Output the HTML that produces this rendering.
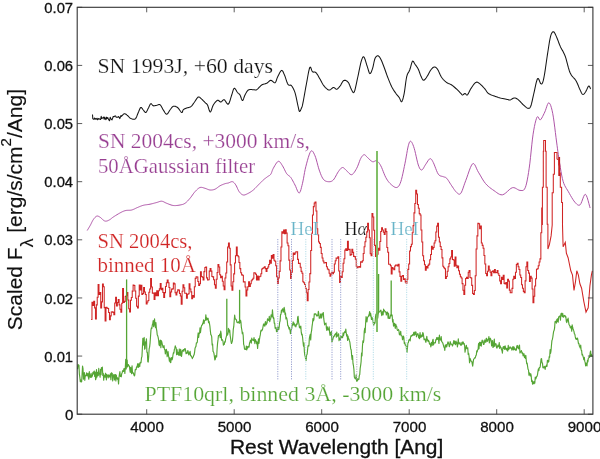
<!DOCTYPE html>
<html><head><meta charset="utf-8"><style>html,body{margin:0;padding:0;background:#fff;}svg{display:block;will-change:transform}</style></head>
<body><svg width="600" height="459" viewBox="0 0 600 459">
<rect width="600" height="459" fill="#fff"/>
<path d="M92.50,114.50 L92.80,118.60 L93.40,119.21 L94.00,119.31 L94.60,117.99 L95.20,119.24 L95.80,118.61 L96.40,119.18 L97.00,118.29 L97.60,119.73 L98.20,119.25 L98.80,118.43 L99.40,118.96 L100.00,119.30 L100.60,119.56 L101.20,116.36 L101.80,118.50 L102.40,118.15 L103.00,117.74 L103.60,117.06 L104.20,119.25 L104.80,117.12 L105.40,118.88 L106.00,119.65 L106.60,117.15 L107.20,118.41 L107.80,117.58 L108.40,119.03 L109.00,120.22 L109.60,120.73 L110.20,117.33 L110.80,118.39 L111.40,119.42 L112.00,119.93 L112.60,118.33 L113.20,116.54 L113.80,116.81 L114.40,116.26 L115.00,116.13 L115.60,115.90 L116.20,117.19 L116.80,117.31 L117.40,117.14 L118.00,117.24 L118.60,116.45 L119.20,117.22 L119.80,118.64 L120.40,117.09 L121.00,115.54 L121.37,116.38 L122.10,115.57 L122.83,114.79 L123.54,114.15 L124.20,113.80 L124.81,113.76 L125.40,113.94 L125.96,114.26 L126.49,114.67 L127.01,115.11 L127.50,115.50 L127.95,115.89 L128.36,116.32 L128.75,116.78 L129.14,117.23 L129.55,117.65 L130.00,118.00 L130.51,118.30 L131.07,118.57 L131.65,118.81 L132.23,119.00 L132.79,119.14 L133.30,119.20 L133.76,119.23 L134.19,119.24 L134.60,119.19 L135.00,119.04 L135.39,118.76 L135.80,118.30 L136.22,117.61 L136.63,116.70 L137.05,115.66 L137.47,114.56 L137.88,113.48 L138.30,112.50 L138.72,111.53 L139.13,110.50 L139.55,109.48 L139.97,108.58 L140.38,107.89 L140.80,107.50 L141.22,107.48 L141.63,107.78 L142.05,108.28 L142.47,108.89 L142.88,109.50 L143.30,110.00 L143.72,110.49 L144.13,111.08 L144.55,111.67 L144.97,112.16 L145.38,112.47 L145.80,112.50 L146.22,112.19 L146.63,111.61 L147.05,110.84 L147.47,109.98 L147.88,109.10 L148.30,108.30 L148.72,107.48 L149.13,106.55 L149.55,105.61 L149.97,104.75 L150.38,104.08 L150.80,103.70 L151.21,103.69 L151.60,104.00 L151.99,104.49 L152.40,105.04 L152.83,105.52 L153.30,105.80 L153.82,105.87 L154.37,105.83 L154.95,105.72 L155.54,105.57 L156.13,105.42 L156.70,105.30 L157.26,105.14 L157.81,104.89 L158.36,104.64 L158.90,104.47 L159.45,104.46 L160.00,104.70 L160.55,105.25 L161.10,106.07 L161.64,107.05 L162.19,108.10 L162.74,109.11 L163.30,110.00 L163.86,110.86 L164.43,111.79 L165.00,112.69 L165.57,113.46 L166.14,114.00 L166.70,114.20 L167.26,113.98 L167.81,113.40 L168.36,112.59 L168.90,111.67 L169.45,110.77 L170.00,110.00 L170.54,109.30 L171.07,108.55 L171.59,107.81 L172.13,107.15 L172.70,106.63 L173.30,106.30 L173.95,106.17 L174.63,106.20 L175.34,106.36 L176.07,106.64 L176.79,107.02 L177.50,107.50 L178.23,108.20 L179.00,109.17 L179.76,110.25 L180.49,111.27 L181.15,112.07 L181.70,112.50 L182.10,112.47 L182.36,112.10 L182.55,111.52 L182.73,110.84 L182.96,110.19 L183.30,109.70 L183.75,109.35 L184.27,109.04 L184.84,108.76 L185.45,108.50 L186.07,108.25 L186.70,108.00 L187.35,107.79 L188.04,107.64 L188.75,107.51 L189.46,107.33 L190.15,107.08 L190.80,106.70 L191.40,106.18 L191.96,105.56 L192.50,104.86 L193.04,104.10 L193.60,103.31 L194.20,102.50 L194.85,101.57 L195.54,100.48 L196.25,99.35 L196.96,98.31 L197.65,97.49 L198.30,97.00 L198.91,96.91 L199.49,97.12 L200.05,97.55 L200.60,98.10 L201.15,98.68 L201.70,99.20 L202.27,99.70 L202.84,100.25 L203.41,100.83 L203.96,101.42 L204.50,101.98 L205.00,102.50 L205.46,102.91 L205.88,103.23 L206.28,103.52 L206.67,103.86 L207.08,104.33 L207.50,105.00 L207.95,106.07 L208.40,107.52 L208.87,109.09 L209.34,110.54 L209.82,111.59 L210.30,112.00 L210.77,111.62 L211.24,110.62 L211.71,109.23 L212.20,107.68 L212.73,106.20 L213.30,105.00 L213.94,104.01 L214.64,103.03 L215.38,102.11 L216.12,101.31 L216.84,100.69 L217.50,100.30 L218.10,100.26 L218.66,100.54 L219.20,101.00 L219.73,101.49 L220.25,101.87 L220.80,102.00 L221.35,101.77 L221.90,101.28 L222.45,100.67 L223.01,100.11 L223.59,99.74 L224.20,99.70 L224.85,100.22 L225.54,101.20 L226.25,102.38 L226.96,103.46 L227.65,104.16 L228.30,104.20 L228.92,103.43 L229.52,102.06 L230.10,100.30 L230.66,98.39 L231.19,96.55 L231.70,95.00 L232.16,93.61 L232.57,92.18 L232.96,90.81 L233.34,89.63 L233.75,88.76 L234.20,88.30 L234.71,88.39 L235.27,88.96 L235.85,89.82 L236.43,90.82 L236.99,91.77 L237.50,92.50 L237.96,92.98 L238.39,93.35 L238.80,93.67 L239.20,94.01 L239.59,94.43 L240.00,95.00 L240.42,95.87 L240.83,97.02 L241.25,98.25 L241.67,99.37 L242.08,100.19 L242.50,100.50 L242.91,100.21 L243.30,99.46 L243.70,98.41 L244.11,97.20 L244.54,96.02 L245.00,95.00 L245.48,94.08 L245.98,93.12 L246.49,92.17 L247.04,91.30 L247.64,90.56 L248.30,90.00 L249.05,89.67 L249.90,89.54 L250.79,89.54 L251.69,89.60 L252.54,89.68 L253.30,89.70 L253.94,89.74 L254.49,89.85 L255.00,89.97 L255.51,90.04 L256.06,89.97 L256.70,89.70 L257.44,89.15 L258.25,88.37 L259.10,87.46 L259.97,86.52 L260.85,85.66 L261.70,85.00 L262.54,84.56 L263.40,84.26 L264.26,84.04 L265.10,83.85 L265.92,83.62 L266.70,83.30 L267.43,82.81 L268.13,82.19 L268.80,81.54 L269.46,80.94 L270.12,80.50 L270.80,80.30 L271.51,80.49 L272.25,81.03 L272.99,81.72 L273.71,82.38 L274.39,82.80 L275.00,82.80 L275.51,82.32 L275.93,81.51 L276.31,80.47 L276.69,79.30 L277.10,78.11 L277.60,77.00 L278.20,75.81 L278.87,74.43 L279.58,73.03 L280.29,71.78 L280.98,70.84 L281.60,70.40 L282.15,70.50 L282.66,71.03 L283.14,71.87 L283.61,72.93 L284.09,74.11 L284.60,75.30 L285.14,76.66 L285.70,78.31 L286.27,80.08 L286.84,81.79 L287.42,83.29 L288.00,84.40 L288.58,85.00 L289.16,85.20 L289.74,85.18 L290.33,85.13 L290.92,85.24 L291.50,85.70 L292.09,86.46 L292.69,87.38 L293.28,88.45 L293.87,89.69 L294.45,91.10 L295.00,92.70 L295.55,94.64 L296.09,96.96 L296.62,99.45 L297.13,101.92 L297.59,104.17 L298.00,106.00 L298.33,107.46 L298.59,108.71 L298.81,109.74 L299.02,110.54 L299.24,111.10 L299.50,111.40 L299.81,111.36 L300.15,110.97 L300.51,110.34 L300.86,109.56 L301.20,108.75 L301.50,108.00 L301.74,107.45 L301.93,107.04 L302.11,106.59 L302.30,105.92 L302.55,104.85 L302.90,103.20 L303.36,100.80 L303.91,97.77 L304.52,94.33 L305.16,90.73 L305.80,87.21 L306.40,84.00 L306.98,80.85 L307.57,77.53 L308.15,74.28 L308.72,71.36 L309.27,69.02 L309.80,67.50 L310.28,67.05 L310.72,67.52 L311.14,68.56 L311.57,69.85 L312.01,71.04 L312.50,71.80 L313.03,72.08 L313.58,72.13 L314.15,72.09 L314.74,72.08 L315.36,72.24 L316.00,72.70 L316.68,73.51 L317.40,74.59 L318.15,75.83 L318.90,77.14 L319.62,78.43 L320.30,79.60 L320.91,80.68 L321.46,81.76 L321.99,82.81 L322.54,83.82 L323.13,84.79 L323.80,85.70 L324.58,86.61 L325.44,87.55 L326.34,88.44 L327.26,89.21 L328.16,89.79 L329.00,90.10 L329.79,90.02 L330.56,89.59 L331.31,88.97 L332.04,88.31 L332.73,87.77 L333.40,87.50 L334.02,87.59 L334.60,87.94 L335.16,88.41 L335.70,88.86 L336.24,89.17 L336.80,89.20 L337.38,88.94 L337.96,88.48 L338.54,87.88 L339.13,87.19 L339.72,86.44 L340.30,85.70 L340.87,84.85 L341.43,83.83 L341.99,82.77 L342.57,81.78 L343.16,80.98 L343.80,80.50 L344.49,80.33 L345.23,80.36 L346.00,80.59 L346.77,81.00 L347.51,81.57 L348.20,82.30 L348.85,83.32 L349.47,84.68 L350.06,86.21 L350.63,87.73 L351.18,89.08 L351.70,90.10 L352.17,90.93 L352.60,91.73 L353.00,92.36 L353.40,92.68 L353.82,92.54 L354.30,91.80 L354.83,90.30 L355.40,88.12 L356.00,85.48 L356.61,82.60 L357.21,79.70 L357.80,77.00 L358.38,74.32 L358.97,71.44 L359.55,68.55 L360.12,65.80 L360.68,63.36 L361.20,61.40 L361.68,59.86 L362.13,58.59 L362.55,57.62 L362.97,57.01 L363.42,56.79 L363.90,57.00 L364.44,57.82 L365.01,59.26 L365.61,61.09 L366.20,63.07 L366.77,64.99 L367.30,66.60 L367.78,68.06 L368.22,69.58 L368.64,71.03 L369.06,72.27 L369.47,73.18 L369.90,73.60 L370.35,73.48 L370.80,72.91 L371.26,72.00 L371.72,70.86 L372.17,69.59 L372.60,68.30 L373.01,66.84 L373.40,65.10 L373.78,63.24 L374.17,61.41 L374.57,59.77 L375.00,58.50 L375.47,57.57 L375.96,56.85 L376.48,56.32 L376.99,55.99 L377.50,55.81 L378.00,55.80 L378.47,55.96 L378.93,56.30 L379.38,56.81 L379.83,57.48 L380.30,58.28 L380.80,59.20 L381.33,60.29 L381.89,61.57 L382.47,62.99 L383.05,64.49 L383.63,66.01 L384.20,67.50 L384.75,68.97 L385.27,70.47 L385.80,71.99 L386.34,73.54 L386.90,75.11 L387.50,76.70 L388.15,78.36 L388.84,80.10 L389.55,81.86 L390.27,83.59 L391.00,85.22 L391.70,86.70 L392.40,88.02 L393.10,89.24 L393.80,90.36 L394.49,91.40 L395.16,92.38 L395.80,93.30 L396.42,94.14 L397.02,94.88 L397.60,95.55 L398.16,96.19 L398.69,96.83 L399.20,97.50 L399.67,98.35 L400.10,99.37 L400.51,100.39 L400.90,101.23 L401.29,101.73 L401.70,101.70 L402.12,101.12 L402.53,100.14 L402.95,98.80 L403.37,97.17 L403.78,95.32 L404.20,93.30 L404.61,90.89 L405.01,88.01 L405.42,84.89 L405.83,81.80 L406.25,78.99 L406.70,76.70 L407.17,75.03 L407.67,73.81 L408.18,72.86 L408.70,72.01 L409.21,71.12 L409.70,70.00 L410.18,68.53 L410.66,66.82 L411.13,65.05 L411.60,63.41 L412.05,62.10 L412.50,61.30 L412.92,61.09 L413.33,61.33 L413.72,61.89 L414.12,62.65 L414.54,63.46 L415.00,64.20 L415.51,64.89 L416.07,65.65 L416.65,66.47 L417.23,67.34 L417.79,68.25 L418.30,69.20 L418.76,70.23 L419.18,71.36 L419.57,72.53 L419.97,73.70 L420.37,74.80 L420.80,75.80 L421.25,76.78 L421.70,77.79 L422.17,78.74 L422.65,79.54 L423.16,80.10 L423.70,80.30 L424.29,80.09 L424.92,79.51 L425.57,78.69 L426.24,77.73 L426.89,76.73 L427.50,75.80 L428.08,74.88 L428.63,73.86 L429.17,72.81 L429.71,71.77 L430.25,70.82 L430.80,70.00 L431.36,69.28 L431.93,68.60 L432.50,68.00 L433.07,67.51 L433.64,67.17 L434.20,67.00 L434.75,67.00 L435.27,67.12 L435.80,67.39 L436.34,67.82 L436.90,68.42 L437.50,69.20 L438.14,70.27 L438.80,71.64 L439.49,73.18 L440.21,74.75 L440.94,76.24 L441.70,77.50 L442.49,78.55 L443.31,79.50 L444.15,80.36 L445.00,81.14 L445.86,81.85 L446.70,82.50 L447.53,83.04 L448.37,83.46 L449.20,83.80 L450.03,84.13 L450.87,84.51 L451.70,85.00 L452.54,85.60 L453.40,86.28 L454.26,87.00 L455.10,87.74 L455.92,88.49 L456.70,89.20 L457.46,89.92 L458.22,90.66 L458.96,91.41 L459.64,92.11 L460.27,92.76 L460.80,93.30 L461.21,93.76 L461.51,94.16 L461.75,94.50 L461.96,94.76 L462.20,94.93 L462.50,95.00 L462.87,94.90 L463.28,94.63 L463.71,94.27 L464.14,93.90 L464.58,93.62 L465.00,93.50 L465.39,93.65 L465.77,94.04 L466.14,94.50 L466.52,94.90 L466.94,95.08 L467.40,94.90 L467.90,94.29 L468.43,93.37 L468.99,92.23 L469.59,90.98 L470.22,89.73 L470.90,88.60 L471.65,87.47 L472.47,86.25 L473.32,85.02 L474.19,83.91 L475.02,83.00 L475.80,82.40 L476.50,82.14 L477.14,82.14 L477.75,82.36 L478.36,82.72 L479.00,83.19 L479.70,83.70 L480.47,84.31 L481.30,85.07 L482.15,85.93 L483.00,86.83 L483.83,87.74 L484.60,88.60 L485.28,89.44 L485.90,90.32 L486.49,91.19 L487.09,92.04 L487.75,92.82 L488.50,93.50 L489.37,94.07 L490.32,94.56 L491.32,94.99 L492.36,95.37 L493.39,95.73 L494.40,96.10 L495.37,96.46 L496.33,96.80 L497.29,97.12 L498.26,97.43 L499.26,97.72 L500.30,98.00 L501.44,98.27 L502.67,98.53 L503.94,98.78 L505.16,99.01 L506.27,99.22 L507.20,99.40 L507.90,99.58 L508.43,99.76 L508.84,99.91 L509.21,100.02 L509.61,100.06 L510.10,100.00 L510.69,99.78 L511.33,99.40 L511.99,98.95 L512.66,98.51 L513.34,98.17 L514.00,98.00 L514.64,98.00 L515.26,98.09 L515.89,98.27 L516.53,98.55 L517.19,98.92 L517.90,99.40 L518.66,100.03 L519.46,100.81 L520.29,101.69 L521.13,102.61 L521.97,103.50 L522.80,104.30 L523.64,105.08 L524.50,105.89 L525.37,106.68 L526.21,107.37 L526.99,107.90 L527.70,108.20 L528.31,108.33 L528.84,108.36 L529.33,108.23 L529.78,107.88 L530.23,107.26 L530.70,106.30 L531.18,104.95 L531.64,103.24 L532.09,101.26 L532.56,99.09 L533.06,96.81 L533.60,94.50 L534.20,91.87 L534.85,88.80 L535.53,85.61 L536.21,82.66 L536.88,80.28 L537.50,78.80 L538.09,78.48 L538.67,79.10 L539.23,80.28 L539.76,81.67 L540.25,82.90 L540.70,83.60 L541.09,83.86 L541.43,83.99 L541.73,83.95 L542.01,83.73 L542.29,83.29 L542.60,82.60 L542.92,81.71 L543.23,80.64 L543.54,79.36 L543.86,77.82 L544.21,75.98 L544.60,73.80 L545.03,71.14 L545.50,67.99 L545.99,64.55 L546.49,60.99 L547.00,57.48 L547.50,54.20 L548.00,51.00 L548.50,47.71 L549.00,44.48 L549.50,41.45 L550.00,38.78 L550.50,36.60 L550.99,34.93 L551.47,33.66 L551.95,32.74 L552.43,32.14 L552.91,31.80 L553.40,31.70 L553.88,31.89 L554.36,32.43 L554.84,33.23 L555.33,34.24 L555.85,35.39 L556.40,36.60 L556.99,37.95 L557.60,39.50 L558.23,41.19 L558.89,42.95 L559.58,44.71 L560.30,46.40 L561.06,47.95 L561.86,49.41 L562.69,50.87 L563.53,52.43 L564.37,54.17 L565.20,56.20 L566.01,58.67 L566.80,61.55 L567.59,64.62 L568.39,67.66 L569.23,70.46 L570.10,72.80 L571.05,74.61 L572.07,76.04 L573.11,77.24 L574.14,78.32 L575.12,79.43 L576.00,80.70 L576.78,82.16 L577.49,83.71 L578.14,85.29 L578.75,86.82 L579.33,88.25 L579.90,89.50 L580.44,90.63 L580.94,91.71 L581.41,92.68 L581.86,93.49 L582.32,94.08 L582.80,94.40 L583.30,94.40 L583.80,94.11 L584.30,93.60 L584.80,92.95 L585.30,92.22 L585.80,91.50 L586.30,90.63 L586.81,89.54 L587.31,88.38 L587.80,87.29 L588.27,86.45 L588.70,86.00 L589.11,86.05 L589.51,86.51 L589.88,87.21 L590.21,87.98 L590.49,88.66 L590.70,89.10" fill="none" stroke="#151515" stroke-width="1.05" stroke-linejoin="round"/>
<path d="M87.20,230.50 L87.54,229.94 L88.01,229.17 L88.56,228.26 L89.16,227.26 L89.75,226.26 L90.30,225.30 L90.80,224.35 L91.29,223.36 L91.77,222.34 L92.27,221.36 L92.77,220.43 L93.30,219.60 L93.85,218.83 L94.43,218.09 L95.02,217.41 L95.61,216.83 L96.21,216.38 L96.80,216.10 L97.38,216.02 L97.97,216.11 L98.55,216.34 L99.13,216.66 L99.72,217.02 L100.30,217.40 L100.89,217.84 L101.50,218.39 L102.11,218.99 L102.70,219.59 L103.27,220.11 L103.80,220.50 L104.28,220.77 L104.70,220.96 L105.10,221.09 L105.50,221.15 L105.92,221.15 L106.40,221.10 L106.93,220.98 L107.50,220.80 L108.10,220.55 L108.71,220.26 L109.31,219.94 L109.90,219.60 L110.43,219.25 L110.89,218.89 L111.35,218.49 L111.87,218.05 L112.50,217.56 L113.30,217.00 L114.34,216.33 L115.59,215.55 L116.95,214.71 L118.33,213.89 L119.65,213.13 L120.80,212.50 L121.77,212.00 L122.62,211.59 L123.40,211.25 L124.16,210.96 L124.94,210.72 L125.80,210.50 L126.73,210.35 L127.70,210.30 L128.70,210.28 L129.71,210.26 L130.71,210.18 L131.70,210.00 L132.67,209.70 L133.64,209.30 L134.61,208.86 L135.57,208.39 L136.53,207.92 L137.50,207.50 L138.46,207.10 L139.40,206.70 L140.34,206.31 L141.30,205.94 L142.28,205.60 L143.30,205.30 L144.36,205.06 L145.47,204.87 L146.59,204.72 L147.73,204.57 L148.87,204.41 L150.00,204.20 L151.14,203.95 L152.30,203.66 L153.46,203.36 L154.59,203.06 L155.68,202.77 L156.70,202.50 L157.63,202.22 L158.49,201.91 L159.31,201.61 L160.10,201.37 L160.89,201.22 L161.70,201.20 L162.51,201.35 L163.31,201.64 L164.10,202.03 L164.91,202.47 L165.77,202.90 L166.70,203.30 L167.71,203.69 L168.78,204.13 L169.89,204.56 L171.03,204.96 L172.18,205.29 L173.30,205.50 L174.43,205.59 L175.59,205.58 L176.75,205.49 L177.89,205.36 L178.98,205.18 L180.00,205.00 L180.93,204.82 L181.79,204.64 L182.61,204.43 L183.40,204.16 L184.19,203.79 L185.00,203.30 L185.83,202.68 L186.67,201.94 L187.50,201.11 L188.33,200.21 L189.17,199.26 L190.00,198.30 L190.83,197.26 L191.67,196.13 L192.50,194.95 L193.33,193.78 L194.17,192.68 L195.00,191.70 L195.83,190.80 L196.67,189.94 L197.50,189.14 L198.33,188.44 L199.17,187.88 L200.00,187.50 L200.83,187.33 L201.67,187.36 L202.50,187.53 L203.33,187.78 L204.17,188.06 L205.00,188.30 L205.83,188.56 L206.67,188.89 L207.50,189.25 L208.33,189.59 L209.17,189.85 L210.00,190.00 L210.83,190.04 L211.67,190.01 L212.50,189.92 L213.33,189.75 L214.17,189.51 L215.00,189.20 L215.83,188.77 L216.67,188.21 L217.50,187.58 L218.33,186.93 L219.17,186.32 L220.00,185.80 L220.85,185.36 L221.73,184.95 L222.61,184.58 L223.46,184.25 L224.27,183.95 L225.00,183.70 L225.64,183.51 L226.19,183.39 L226.70,183.30 L227.20,183.23 L227.72,183.14 L228.30,183.00 L228.96,182.76 L229.67,182.44 L230.40,182.10 L231.13,181.81 L231.84,181.66 L232.50,181.70 L233.10,181.94 L233.66,182.33 L234.20,182.85 L234.73,183.48 L235.25,184.20 L235.80,185.00 L236.35,185.96 L236.90,187.11 L237.45,188.35 L238.01,189.59 L238.59,190.74 L239.20,191.70 L239.83,192.50 L240.48,193.24 L241.15,193.88 L241.84,194.40 L242.56,194.78 L243.30,195.00 L244.08,195.02 L244.90,194.86 L245.74,194.56 L246.60,194.17 L247.46,193.73 L248.30,193.30 L249.13,192.86 L249.97,192.38 L250.80,191.86 L251.63,191.29 L252.47,190.67 L253.30,190.00 L254.13,189.27 L254.97,188.46 L255.80,187.61 L256.63,186.73 L257.47,185.85 L258.30,185.00 L259.14,184.15 L260.00,183.27 L260.85,182.39 L261.69,181.54 L262.51,180.73 L263.30,180.00 L264.06,179.34 L264.79,178.74 L265.51,178.19 L266.20,177.68 L266.86,177.18 L267.50,176.70 L268.11,176.28 L268.70,175.93 L269.26,175.61 L269.79,175.26 L270.31,174.80 L270.80,174.20 L271.23,173.43 L271.60,172.53 L271.94,171.53 L272.31,170.47 L272.75,169.39 L273.30,168.30 L274.00,167.06 L274.81,165.62 L275.69,164.15 L276.60,162.82 L277.48,161.81 L278.30,161.30 L279.05,161.35 L279.76,161.82 L280.45,162.62 L281.13,163.62 L281.81,164.72 L282.50,165.80 L283.20,166.97 L283.90,168.33 L284.61,169.79 L285.31,171.24 L286.01,172.58 L286.70,173.70 L287.39,174.53 L288.07,175.13 L288.75,175.62 L289.43,176.11 L290.11,176.70 L290.80,177.50 L291.49,178.53 L292.19,179.71 L292.89,180.99 L293.60,182.33 L294.30,183.68 L295.00,185.00 L295.71,186.51 L296.43,188.29 L297.16,190.08 L297.87,191.63 L298.55,192.69 L299.20,193.00 L299.80,192.49 L300.37,191.33 L300.91,189.69 L301.43,187.70 L301.96,185.52 L302.50,183.30 L303.03,180.92 L303.54,178.23 L304.04,175.36 L304.57,172.40 L305.15,169.48 L305.80,166.70 L306.54,163.83 L307.37,160.74 L308.24,157.68 L309.13,154.91 L309.99,152.70 L310.80,151.30 L311.55,150.79 L312.26,150.97 L312.95,151.70 L313.63,152.84 L314.31,154.26 L315.00,155.80 L315.70,157.66 L316.40,160.00 L317.11,162.61 L317.81,165.28 L318.51,167.81 L319.20,170.00 L319.88,171.90 L320.54,173.69 L321.20,175.33 L321.87,176.81 L322.57,178.11 L323.30,179.20 L324.08,180.05 L324.90,180.69 L325.74,181.13 L326.60,181.43 L327.46,181.60 L328.30,181.70 L329.13,181.74 L329.97,181.69 L330.80,181.52 L331.63,181.21 L332.47,180.71 L333.30,180.00 L334.14,178.95 L335.00,177.57 L335.85,176.01 L336.69,174.41 L337.51,172.92 L338.30,171.70 L339.05,170.68 L339.76,169.72 L340.45,168.88 L341.13,168.19 L341.81,167.72 L342.50,167.50 L343.19,167.61 L343.87,168.02 L344.55,168.64 L345.24,169.38 L345.95,170.13 L346.70,170.80 L347.49,171.53 L348.31,172.44 L349.15,173.36 L350.00,174.14 L350.86,174.64 L351.70,174.70 L352.54,174.27 L353.40,173.46 L354.26,172.37 L355.10,171.08 L355.92,169.69 L356.70,168.30 L357.44,166.77 L358.16,165.00 L358.85,163.13 L359.52,161.29 L360.17,159.64 L360.80,158.30 L361.41,157.26 L361.99,156.39 L362.55,155.70 L363.10,155.19 L363.65,154.86 L364.20,154.70 L364.74,154.78 L365.24,155.11 L365.75,155.61 L366.28,156.23 L366.85,156.88 L367.50,157.50 L368.24,158.18 L369.07,158.99 L369.94,159.83 L370.83,160.63 L371.69,161.28 L372.50,161.70 L373.25,161.78 L373.96,161.56 L374.66,161.20 L375.34,160.85 L376.02,160.67 L376.70,160.80 L377.38,161.21 L378.04,161.78 L378.70,162.51 L379.37,163.42 L380.07,164.51 L380.80,165.80 L381.58,167.42 L382.40,169.39 L383.24,171.54 L384.10,173.72 L384.96,175.76 L385.80,177.50 L386.62,178.95 L387.43,180.23 L388.24,181.37 L389.07,182.40 L389.91,183.34 L390.80,184.20 L391.75,185.05 L392.77,185.89 L393.81,186.63 L394.83,187.20 L395.81,187.52 L396.70,187.50 L397.49,187.21 L398.20,186.71 L398.86,185.96 L399.49,184.90 L400.13,183.50 L400.80,181.70 L401.50,179.35 L402.23,176.47 L402.95,173.23 L403.66,169.83 L404.35,166.46 L405.00,163.30 L405.61,160.18 L406.20,156.92 L406.76,153.68 L407.29,150.64 L407.81,147.95 L408.30,145.80 L408.75,144.16 L409.16,142.91 L409.54,142.02 L409.93,141.47 L410.34,141.23 L410.80,141.30 L411.31,141.69 L411.84,142.42 L412.40,143.48 L412.98,144.82 L413.58,146.44 L414.20,148.30 L414.85,150.66 L415.54,153.58 L416.25,156.78 L416.96,159.94 L417.65,162.78 L418.30,165.00 L418.90,166.64 L419.46,167.93 L420.00,168.91 L420.54,169.57 L421.10,169.93 L421.70,170.00 L422.34,169.65 L423.01,168.86 L423.70,167.76 L424.40,166.51 L425.10,165.27 L425.80,164.20 L426.50,163.16 L427.23,162.00 L427.95,160.85 L428.66,159.83 L429.35,159.07 L430.00,158.70 L430.58,158.70 L431.10,158.99 L431.60,159.52 L432.11,160.30 L432.66,161.30 L433.30,162.50 L434.03,164.10 L434.84,166.16 L435.69,168.43 L436.57,170.69 L437.45,172.69 L438.30,174.20 L439.15,175.16 L440.03,175.75 L440.90,176.08 L441.75,176.27 L442.56,176.44 L443.30,176.70 L443.94,176.95 L444.49,177.08 L445.00,177.19 L445.51,177.36 L446.06,177.70 L446.70,178.30 L447.44,179.22 L448.25,180.39 L449.10,181.73 L449.97,183.14 L450.85,184.53 L451.70,185.80 L452.54,187.03 L453.40,188.31 L454.26,189.57 L455.10,190.73 L455.92,191.73 L456.70,192.50 L457.43,193.13 L458.10,193.70 L458.76,194.11 L459.41,194.24 L460.08,194.01 L460.80,193.30 L461.55,192.03 L462.30,190.26 L463.07,188.11 L463.88,185.72 L464.75,183.21 L465.70,180.70 L466.76,177.83 L467.93,174.41 L469.15,170.88 L470.39,167.64 L471.58,165.11 L472.70,163.70 L473.71,163.61 L474.64,164.54 L475.54,166.18 L476.44,168.21 L477.38,170.33 L478.40,172.20 L479.49,173.97 L480.61,175.91 L481.77,177.94 L482.98,179.94 L484.22,181.83 L485.50,183.50 L486.84,184.96 L488.23,186.29 L489.66,187.49 L491.11,188.60 L492.57,189.63 L494.00,190.60 L495.40,191.60 L496.78,192.63 L498.16,193.59 L499.56,194.34 L501.00,194.79 L502.50,194.80 L504.10,194.16 L505.78,192.91 L507.51,191.34 L509.22,189.76 L510.87,188.45 L512.40,187.70 L513.83,187.64 L515.19,188.07 L516.49,188.77 L517.73,189.53 L518.90,190.14 L520.00,190.40 L521.02,190.47 L521.96,190.56 L522.83,190.49 L523.64,190.12 L524.43,189.28 L525.20,187.80 L525.94,185.68 L526.63,183.06 L527.28,179.96 L527.92,176.43 L528.55,172.50 L529.20,168.20 L529.86,163.17 L530.51,157.30 L531.16,151.04 L531.80,144.81 L532.45,139.05 L533.10,134.20 L533.76,130.16 L534.42,126.55 L535.08,123.41 L535.74,120.79 L536.38,118.70 L537.00,117.20 L537.58,116.62 L538.13,117.00 L538.67,117.93 L539.21,118.98 L539.78,119.74 L540.40,119.80 L541.08,119.12 L541.81,118.02 L542.56,116.64 L543.33,115.09 L544.08,113.50 L544.80,112.00 L545.49,110.32 L546.17,108.31 L546.83,106.26 L547.49,104.46 L548.14,103.21 L548.80,102.80 L549.46,103.20 L550.11,104.17 L550.76,105.68 L551.40,107.72 L552.05,110.27 L552.70,113.30 L553.37,117.15 L554.05,121.90 L554.73,127.16 L555.40,132.52 L556.03,137.60 L556.60,142.00 L557.09,145.63 L557.51,148.80 L557.90,151.69 L558.29,154.46 L558.71,157.31 L559.20,160.40 L559.76,163.86 L560.35,167.57 L560.98,171.35 L561.65,175.02 L562.35,178.40 L563.10,181.30 L563.89,183.64 L564.72,185.54 L565.59,187.15 L566.49,188.61 L567.43,190.08 L568.40,191.70 L569.43,193.54 L570.53,195.49 L571.66,197.44 L572.79,199.28 L573.88,200.91 L574.90,202.20 L575.84,203.24 L576.73,204.14 L577.58,204.81 L578.41,205.20 L579.24,205.22 L580.10,204.80 L580.98,203.53 L581.88,201.37 L582.78,198.86 L583.67,196.49 L584.55,194.80 L585.40,194.30 L586.27,195.34 L587.19,197.58 L588.08,200.49 L588.90,203.55 L589.60,206.23 L590.10,208.00" fill="none" stroke="#aa4ca2" stroke-width="0.95" stroke-linejoin="round"/>
<path d="M559.2,157 L559.2,176" stroke="#c01818" stroke-width="1.8"/>
<path d="M91.10,319.51 L91.97,319.51 L91.97,302.19 L92.85,302.19 L92.85,305.59 L93.72,305.59 L93.72,301.27 L94.60,301.27 L94.60,307.86 L95.47,307.86 L95.47,318.94 L96.35,318.94 L96.35,304.88 L97.22,304.88 L97.22,297.24 L98.10,297.24 L98.10,284.44 L98.97,284.44 L98.97,294.40 L99.85,294.40 L99.85,292.55 L100.72,292.55 L100.72,307.97 L101.60,307.97 L101.60,301.87 L102.47,301.87 L102.47,283.95 L103.35,283.95 L103.35,286.82 L104.22,286.82 L104.22,307.63 L105.10,307.63 L105.10,321.02 L105.97,321.02 L105.97,307.29 L106.85,307.29 L106.85,308.09 L107.72,308.09 L107.72,308.41 L108.60,308.41 L108.60,312.51 L109.47,312.51 L109.47,319.62 L110.35,319.62 L110.35,315.88 L111.22,315.88 L111.22,312.01 L112.10,312.01 L112.10,311.69 L112.97,311.69 L112.97,312.39 L113.85,312.39 L113.85,314.83 L114.72,314.83 L114.72,303.00 L115.60,303.00 L115.60,297.38 L116.47,297.38 L116.47,305.99 L117.35,305.99 L117.35,302.52 L118.22,302.52 L118.22,299.63 L119.10,299.63 L119.10,304.87 L119.97,304.87 L119.97,309.29 L120.85,309.29 L120.85,312.33 L121.72,312.33 L121.72,303.16 L122.60,303.16 L122.60,288.43 L123.47,288.43 L123.47,302.47 L124.35,302.47 L124.35,301.35 L125.22,301.35 L125.22,296.53 L126.10,296.53 L126.10,295.81 L126.97,295.81 L126.97,292.51 L127.85,292.51 L127.85,299.96 L128.72,299.96 L128.72,308.74 L129.60,308.74 L129.60,311.99 L130.47,311.99 L130.47,300.23 L131.35,300.23 L131.35,297.55 L132.22,297.55 L132.22,291.13 L133.10,291.13 L133.10,284.97 L133.97,284.97 L133.97,285.40 L134.85,285.40 L134.85,291.05 L135.72,291.05 L135.72,298.24 L136.60,298.24 L136.60,306.18 L137.47,306.18 L137.47,307.87 L138.35,307.87 L138.35,296.14 L139.22,296.14 L139.22,285.10 L140.10,285.10 L140.10,290.05 L140.97,290.05 L140.97,285.29 L141.85,285.29 L141.85,294.45 L142.72,294.45 L142.72,293.47 L143.60,293.47 L143.60,287.47 L144.47,287.47 L144.47,291.90 L145.35,291.90 L145.35,294.40 L146.22,294.40 L146.22,304.04 L147.10,304.04 L147.10,301.95 L147.97,301.95 L147.97,300.48 L148.85,300.48 L148.85,292.27 L149.72,292.27 L149.72,289.08 L150.60,289.08 L150.60,278.55 L151.47,278.55 L151.47,286.94 L152.35,286.94 L152.35,293.16 L153.22,293.16 L153.22,293.09 L154.10,293.09 L154.10,299.38 L154.97,299.38 L154.97,292.72 L155.85,292.72 L155.85,295.67 L156.72,295.67 L156.72,290.68 L157.60,290.68 L157.60,295.72 L158.47,295.72 L158.47,290.75 L159.35,290.75 L159.35,288.69 L160.22,288.69 L160.22,283.64 L161.10,283.64 L161.10,289.80 L161.97,289.80 L161.97,288.37 L162.85,288.37 L162.85,292.44 L163.72,292.44 L163.72,297.51 L164.60,297.51 L164.60,292.61 L165.47,292.61 L165.47,286.54 L166.35,286.54 L166.35,282.79 L167.22,282.79 L167.22,279.90 L168.10,279.90 L168.10,282.65 L168.97,282.65 L168.97,287.47 L169.85,287.47 L169.85,296.70 L170.72,296.70 L170.72,292.08 L171.60,292.08 L171.60,289.11 L172.47,289.11 L172.47,288.85 L173.35,288.85 L173.35,282.92 L174.22,282.92 L174.22,283.86 L175.10,283.86 L175.10,292.78 L175.97,292.78 L175.97,294.94 L176.85,294.94 L176.85,292.04 L177.72,292.04 L177.72,289.80 L178.60,289.80 L178.60,290.13 L179.47,290.13 L179.47,293.43 L180.35,293.43 L180.35,296.04 L181.22,296.04 L181.22,304.16 L182.10,304.16 L182.10,291.28 L182.97,291.28 L182.97,284.86 L183.85,284.86 L183.85,287.84 L184.72,287.84 L184.72,293.16 L185.60,293.16 L185.60,293.23 L186.47,293.23 L186.47,298.14 L187.35,298.14 L187.35,294.26 L188.22,294.26 L188.22,293.65 L189.10,293.65 L189.10,283.89 L189.97,283.89 L189.97,289.03 L190.85,289.03 L190.85,291.89 L191.72,291.89 L191.72,298.78 L192.60,298.78 L192.60,295.62 L193.47,295.62 L193.47,297.32 L194.35,297.32 L194.35,286.84 L195.22,286.84 L195.22,278.36 L196.10,278.36 L196.10,276.88 L196.97,276.88 L196.97,277.01 L197.85,277.01 L197.85,281.53 L198.72,281.53 L198.72,285.40 L199.60,285.40 L199.60,283.83 L200.47,283.83 L200.47,271.69 L201.35,271.69 L201.35,276.52 L202.22,276.52 L202.22,277.24 L203.10,277.24 L203.10,280.03 L203.97,280.03 L203.97,271.60 L204.85,271.60 L204.85,267.45 L205.72,267.45 L205.72,267.12 L206.60,267.12 L206.60,277.89 L207.47,277.89 L207.47,280.08 L208.35,280.08 L208.35,279.71 L209.22,279.71 L209.22,271.12 L210.10,271.12 L210.10,268.59 L210.97,268.59 L210.97,271.10 L211.85,271.10 L211.85,276.46 L212.72,276.46 L212.72,276.88 L213.60,276.88 L213.60,279.78 L214.47,279.78 L214.47,284.70 L215.35,284.70 L215.35,288.10 L216.22,288.10 L216.22,279.31 L217.10,279.31 L217.10,272.46 L217.97,272.46 L217.97,264.60 L218.85,264.60 L218.85,267.07 L219.72,267.07 L219.72,274.80 L220.60,274.80 L220.60,277.64 L221.47,277.64 L221.47,276.38 L222.35,276.38 L222.35,281.34 L223.22,281.34 L223.22,285.99 L224.10,285.99 L224.10,289.81 L224.97,289.81 L224.97,278.04 L225.85,278.04 L225.85,273.09 L226.72,273.09 L226.72,261.92 L227.60,261.92 L227.60,246.95 L228.47,246.95 L228.47,242.96 L229.35,242.96 L229.35,248.33 L230.22,248.33 L230.22,264.87 L231.10,264.87 L231.10,286.02 L231.97,286.02 L231.97,290.22 L232.85,290.22 L232.85,281.83 L233.72,281.83 L233.72,273.86 L234.60,273.86 L234.60,263.08 L235.47,263.08 L235.47,255.70 L236.35,255.70 L236.35,247.08 L237.22,247.08 L237.22,255.49 L238.10,255.49 L238.10,256.84 L238.97,256.84 L238.97,262.59 L239.85,262.59 L239.85,268.60 L240.72,268.60 L240.72,272.79 L241.60,272.79 L241.60,274.88 L242.47,274.88 L242.47,275.21 L243.35,275.21 L243.35,281.92 L244.22,281.92 L244.22,281.84 L245.10,281.84 L245.10,287.08 L245.97,287.08 L245.97,296.00 L246.85,296.00 L246.85,290.09 L247.72,290.09 L247.72,286.79 L248.60,286.79 L248.60,281.79 L249.47,281.79 L249.47,286.41 L250.35,286.41 L250.35,283.71 L251.22,283.71 L251.22,280.67 L252.10,280.67 L252.10,279.54 L252.97,279.54 L252.97,278.24 L253.85,278.24 L253.85,272.88 L254.72,272.88 L254.72,273.00 L255.60,273.00 L255.60,274.32 L256.48,274.32 L256.48,279.90 L257.35,279.90 L257.35,276.09 L258.23,276.09 L258.23,279.97 L259.10,279.97 L259.10,276.71 L259.98,276.71 L259.98,276.34 L260.85,276.34 L260.85,273.76 L261.73,273.76 L261.73,269.09 L262.60,269.09 L262.60,268.22 L263.48,268.22 L263.48,267.82 L264.35,267.82 L264.35,266.83 L265.23,266.83 L265.23,268.62 L266.10,268.62 L266.10,271.56 L266.98,271.56 L266.98,268.55 L267.85,268.55 L267.85,266.96 L268.73,266.96 L268.73,264.55 L269.60,264.55 L269.60,260.31 L270.48,260.31 L270.48,263.23 L271.35,263.23 L271.35,255.57 L272.23,255.57 L272.23,258.25 L273.10,258.25 L273.10,254.47 L273.98,254.47 L273.98,260.33 L274.85,260.33 L274.85,261.28 L275.73,261.28 L275.73,265.68 L276.60,265.68 L276.60,276.83 L277.48,276.83 L277.48,283.58 L278.35,283.58 L278.35,277.86 L279.23,277.86 L279.23,271.37 L280.10,271.37 L280.10,260.89 L280.98,260.89 L280.98,246.94 L281.85,246.94 L281.85,231.74 L282.73,231.74 L282.73,233.17 L283.60,233.17 L283.60,229.99 L284.48,229.99 L284.48,233.62 L285.35,233.62 L285.35,229.68 L286.23,229.68 L286.23,233.13 L287.10,233.13 L287.10,242.99 L287.98,242.99 L287.98,245.77 L288.85,245.77 L288.85,260.14 L289.73,260.14 L289.73,269.95 L290.60,269.95 L290.60,278.40 L291.48,278.40 L291.48,272.17 L292.35,272.17 L292.35,260.55 L293.23,260.55 L293.23,252.95 L294.10,252.95 L294.10,254.38 L294.98,254.38 L294.98,252.91 L295.85,252.91 L295.85,251.72 L296.73,251.72 L296.73,251.73 L297.60,251.73 L297.60,259.38 L298.48,259.38 L298.48,263.39 L299.35,263.39 L299.35,263.16 L300.23,263.16 L300.23,267.17 L301.10,267.17 L301.10,271.36 L301.98,271.36 L301.98,273.32 L302.85,273.32 L302.85,281.68 L303.73,281.68 L303.73,282.75 L304.60,282.75 L304.60,284.49 L305.48,284.49 L305.48,288.17 L306.35,288.17 L306.35,292.78 L307.23,292.78 L307.23,300.81 L308.10,300.81 L308.10,289.58 L308.98,289.58 L308.98,281.91 L309.85,281.91 L309.85,273.62 L310.73,273.62 L310.73,250.40 L311.60,250.40 L311.60,233.21 L312.48,233.21 L312.48,214.98 L313.35,214.98 L313.35,206.60 L314.23,206.60 L314.23,202.99 L315.10,202.99 L315.10,202.10 L315.98,202.10 L315.98,211.02 L316.85,211.02 L316.85,228.77 L317.73,228.77 L317.73,234.68 L318.60,234.68 L318.60,241.97 L319.48,241.97 L319.48,243.44 L320.35,243.44 L320.35,247.37 L321.23,247.37 L321.23,253.58 L322.10,253.58 L322.10,257.97 L322.98,257.97 L322.98,260.98 L323.85,260.98 L323.85,262.89 L324.73,262.89 L324.73,262.73 L325.60,262.73 L325.60,262.55 L326.48,262.55 L326.48,266.84 L327.35,266.84 L327.35,268.92 L328.23,268.92 L328.23,269.68 L329.10,269.68 L329.10,273.24 L329.98,273.24 L329.98,276.24 L330.85,276.24 L330.85,273.92 L331.73,273.92 L331.73,272.24 L332.60,272.24 L332.60,273.66 L333.48,273.66 L333.48,272.24 L334.35,272.24 L334.35,263.91 L335.23,263.91 L335.23,260.73 L336.10,260.73 L336.10,258.01 L336.98,258.01 L336.98,258.24 L337.85,258.24 L337.85,256.87 L338.73,256.87 L338.73,271.08 L339.60,271.08 L339.60,282.41 L340.48,282.41 L340.48,276.19 L341.35,276.19 L341.35,277.53 L342.23,277.53 L342.23,271.65 L343.10,271.65 L343.10,263.29 L343.98,263.29 L343.98,258.78 L344.85,258.78 L344.85,250.12 L345.73,250.12 L345.73,248.77 L346.60,248.77 L346.60,250.41 L347.48,250.41 L347.48,241.31 L348.35,241.31 L348.35,249.68 L349.23,249.68 L349.23,249.25 L350.10,249.25 L350.10,255.13 L350.98,255.13 L350.98,254.55 L351.85,254.55 L351.85,249.32 L352.73,249.32 L352.73,252.38 L353.60,252.38 L353.60,256.35 L354.48,256.35 L354.48,256.60 L355.35,256.60 L355.35,259.27 L356.23,259.27 L356.23,266.33 L357.10,266.33 L357.10,267.66 L357.98,267.66 L357.98,267.03 L358.85,267.03 L358.85,266.56 L359.73,266.56 L359.73,267.22 L360.60,267.22 L360.60,261.81 L361.48,261.81 L361.48,262.14 L362.35,262.14 L362.35,260.76 L363.23,260.76 L363.23,253.54 L364.10,253.54 L364.10,246.73 L364.98,246.73 L364.98,241.75 L365.85,241.75 L365.85,237.18 L366.73,237.18 L366.73,231.85 L367.60,231.85 L367.60,223.32 L368.48,223.32 L368.48,229.92 L369.35,229.92 L369.35,237.79 L370.23,237.79 L370.23,253.79 L371.10,253.79 L371.10,255.84 L371.98,255.84 L371.98,213.42 L372.85,213.42 L372.85,217.09 L373.73,217.09 L373.73,230.27 L374.60,230.27 L374.60,245.36 L375.48,245.36 L375.48,256.40 L376.35,256.40 L376.35,256.06 L377.23,256.06 L377.23,254.34 L378.10,254.34 L378.10,248.18 L378.98,248.18 L378.98,250.14 L379.85,250.14 L379.85,241.47 L380.73,241.47 L380.73,231.56 L381.60,231.56 L381.60,227.89 L382.48,227.89 L382.48,230.08 L383.35,230.08 L383.35,232.21 L384.23,232.21 L384.23,234.47 L385.10,234.47 L385.10,228.67 L385.98,228.67 L385.98,231.61 L386.85,231.61 L386.85,247.44 L387.73,247.44 L387.73,252.18 L388.60,252.18 L388.60,264.28 L389.48,264.28 L389.48,264.16 L390.35,264.16 L390.35,265.67 L391.23,265.67 L391.23,274.03 L392.10,274.03 L392.10,267.42 L392.98,267.42 L392.98,268.65 L393.85,268.65 L393.85,269.82 L394.73,269.82 L394.73,266.09 L395.60,266.09 L395.60,265.10 L396.48,265.10 L396.48,264.90 L397.35,264.90 L397.35,265.86 L398.23,265.86 L398.23,264.32 L399.10,264.32 L399.10,271.86 L399.98,271.86 L399.98,276.36 L400.85,276.36 L400.85,281.20 L401.73,281.20 L401.73,276.18 L402.60,276.18 L402.60,275.55 L403.48,275.55 L403.48,279.59 L404.35,279.59 L404.35,278.67 L405.23,278.67 L405.23,281.86 L406.10,281.86 L406.10,283.28 L406.98,283.28 L406.98,279.33 L407.85,279.33 L407.85,269.37 L408.73,269.37 L408.73,263.99 L409.60,263.99 L409.60,250.99 L410.48,250.99 L410.48,246.64 L411.35,246.64 L411.35,244.33 L412.23,244.33 L412.23,232.67 L413.10,232.67 L413.10,225.63 L413.98,225.63 L413.98,212.85 L414.85,212.85 L414.85,203.53 L415.73,203.53 L415.73,190.16 L416.60,190.16 L416.60,193.93 L417.48,193.93 L417.48,204.45 L418.35,204.45 L418.35,208.24 L419.23,208.24 L419.23,213.60 L420.10,213.60 L420.10,214.98 L420.98,214.98 L420.98,230.01 L421.85,230.01 L421.85,242.05 L422.73,242.05 L422.73,255.79 L423.60,255.79 L423.60,260.71 L424.48,260.71 L424.48,264.79 L425.35,264.79 L425.35,270.32 L426.23,270.32 L426.23,266.50 L427.10,266.50 L427.10,267.88 L427.98,267.88 L427.98,265.39 L428.85,265.39 L428.85,264.13 L429.73,264.13 L429.73,259.66 L430.60,259.66 L430.60,254.42 L431.48,254.42 L431.48,246.35 L432.35,246.35 L432.35,249.18 L433.23,249.18 L433.23,247.53 L434.10,247.53 L434.10,242.99 L434.98,242.99 L434.98,240.82 L435.85,240.82 L435.85,232.02 L436.73,232.02 L436.73,226.14 L437.60,226.14 L437.60,223.35 L438.48,223.35 L438.48,237.22 L439.35,237.22 L439.35,241.96 L440.23,241.96 L440.23,246.55 L441.10,246.55 L441.10,249.58 L441.98,249.58 L441.98,257.86 L442.85,257.86 L442.85,266.25 L443.73,266.25 L443.73,267.78 L444.60,267.78 L444.60,268.78 L445.48,268.78 L445.48,278.47 L446.35,278.47 L446.35,276.48 L447.23,276.48 L447.23,271.23 L448.10,271.23 L448.10,266.65 L448.98,266.65 L448.98,263.52 L449.85,263.52 L449.85,258.85 L450.73,258.85 L450.73,256.98 L451.60,256.98 L451.60,250.46 L452.48,250.46 L452.48,259.50 L453.35,259.50 L453.35,260.04 L454.23,260.04 L454.23,266.34 L455.10,266.34 L455.10,256.94 L455.98,256.94 L455.98,265.27 L456.85,265.27 L456.85,267.65 L457.73,267.65 L457.73,265.96 L458.60,265.96 L458.60,270.75 L459.48,270.75 L459.48,274.34 L460.35,274.34 L460.35,276.72 L461.23,276.72 L461.23,278.05 L462.10,278.05 L462.10,283.61 L462.98,283.61 L462.98,290.30 L463.85,290.30 L463.85,294.52 L464.73,294.52 L464.73,285.29 L465.60,285.29 L465.60,278.47 L466.48,278.47 L466.48,277.20 L467.35,277.20 L467.35,278.45 L468.23,278.45 L468.23,272.18 L469.10,272.18 L469.10,270.64 L469.98,270.64 L469.98,277.51 L470.85,277.51 L470.85,277.92 L471.73,277.92 L471.73,285.39 L472.60,285.39 L472.60,293.42 L473.48,293.42 L473.48,294.45 L474.35,294.45 L474.35,290.41 L475.23,290.41 L475.23,275.78 L476.10,275.78 L476.10,248.94 L476.98,248.94 L476.98,235.86 L477.85,235.86 L477.85,223.28 L478.73,223.28 L478.73,223.69 L479.60,223.69 L479.60,228.67 L480.48,228.67 L480.48,225.94 L481.35,225.94 L481.35,242.97 L482.23,242.97 L482.23,245.38 L483.10,245.38 L483.10,248.21 L483.98,248.21 L483.98,255.40 L484.85,255.40 L484.85,263.91 L485.73,263.91 L485.73,273.49 L486.60,273.49 L486.60,275.64 L487.48,275.64 L487.48,271.19 L488.35,271.19 L488.35,265.98 L489.23,265.98 L489.23,270.01 L490.10,270.01 L490.10,272.33 L490.98,272.33 L490.98,275.60 L491.85,275.60 L491.85,271.58 L492.73,271.58 L492.73,270.68 L493.60,270.68 L493.60,272.72 L494.48,272.72 L494.48,269.47 L495.35,269.47 L495.35,272.66 L496.23,272.66 L496.23,272.43 L497.10,272.43 L497.10,270.48 L497.98,270.48 L497.98,273.83 L498.85,273.83 L498.85,275.42 L499.73,275.42 L499.73,280.85 L500.60,280.85 L500.60,283.67 L501.48,283.67 L501.48,277.39 L502.35,277.39 L502.35,279.44 L503.23,279.44 L503.23,275.22 L504.10,275.22 L504.10,283.38 L504.98,283.38 L504.98,283.99 L505.85,283.99 L505.85,282.40 L506.73,282.40 L506.73,287.88 L507.60,287.88 L507.60,279.24 L508.48,279.24 L508.48,281.13 L509.35,281.13 L509.35,290.13 L510.23,290.13 L510.23,292.68 L511.10,292.68 L511.10,292.75 L511.98,292.75 L511.98,288.38 L512.85,288.38 L512.85,279.21 L513.73,279.21 L513.73,276.34 L514.60,276.34 L514.60,278.53 L515.48,278.53 L515.48,272.21 L516.35,272.21 L516.35,264.46 L517.23,264.46 L517.23,263.25 L518.10,263.25 L518.10,266.67 L518.98,266.67 L518.98,269.50 L519.85,269.50 L519.85,275.07 L520.73,275.07 L520.73,277.55 L521.60,277.55 L521.60,284.77 L522.48,284.77 L522.48,288.32 L523.35,288.32 L523.35,291.36 L524.23,291.36 L524.23,292.78 L525.10,292.78 L525.10,280.88 L525.98,280.88 L525.98,266.73 L526.85,266.73 L526.85,262.11 L527.73,262.11 L527.73,270.42 L528.60,270.42 L528.60,273.13 L529.48,273.13 L529.48,281.41 L530.35,281.41 L530.35,276.31 L531.23,276.31 L531.23,278.10 L532.10,278.10 L532.10,289.02 L532.98,289.02 L532.98,302.61 L533.85,302.61 L533.85,296.15 L534.73,296.15 L534.73,286.06 L535.60,286.06 L535.60,278.70 L536.48,278.70 L536.48,269.23 L537.35,269.23 L537.35,268.65 L538.23,268.65 L538.23,265.74 L539.10,265.74 L539.10,261.99 L539.98,261.99 L539.98,258.89 L540.85,258.89 L540.85,232.77 L541.73,232.77 L541.73,207.55 L542.40,225.00 L542.40,187.30 L543.30,187.30 L543.30,151.30 L543.70,151.30 L543.70,140.40 L545.50,140.40 L545.50,151.30 L546.10,151.30 L546.10,187.30 L547.20,187.30 L547.20,224.30 L547.90,224.30 L547.90,249.00 L549.40,244.60 L551.10,235.90 L552.20,225.00 L552.20,192.70 L553.30,192.70 L553.30,174.20 L554.40,174.20 L554.40,152.40 L557.00,152.40 L557.00,159.00 L558.80,160.00 L558.80,165.00 L559.60,165.00 L559.60,173.00 L560.30,173.00 L560.30,187.30 L561.60,187.30 L561.60,202.50 L562.50,202.50 L562.50,225.00 L563.10,246.80 L565.30,242.40 L566.40,253.30 L568.10,257.70 L570.80,270.80 L572.50,275.10 L574.00,290.40 L575.50,281.60 L576.80,270.80 L578.40,275.10 L579.90,283.80 L581.60,288.20 L583.80,301.30 L586.00,312.10 L588.20,307.80 L589.90,286.00 L591.40,275.10 L592.30,270.80" fill="none" stroke="#d02424" stroke-width="1.05" stroke-linejoin="miter"/>
<path d="M77.60,369.25 L78.05,364.52 L78.50,365.06 L78.95,365.31 L79.40,374.22 L79.85,377.37 L80.30,381.72 L80.75,379.98 L81.20,381.91 L81.65,381.70 L82.10,374.08 L82.55,365.98 L83.00,368.52 L83.45,379.19 L83.90,376.81 L84.35,372.65 L84.80,380.32 L85.25,375.43 L85.70,375.86 L86.15,375.00 L86.60,372.93 L87.05,375.99 L87.50,374.54 L87.95,373.39 L88.40,377.28 L88.85,379.25 L89.30,371.67 L89.75,376.84 L90.20,375.03 L90.65,377.48 L91.10,373.34 L91.55,377.22 L92.00,376.57 L92.45,375.25 L92.90,372.34 L93.35,374.04 L93.80,371.70 L94.25,370.98 L94.70,376.34 L95.15,372.09 L95.60,379.76 L96.05,378.41 L96.50,369.61 L96.95,377.10 L97.40,372.26 L97.85,375.71 L98.30,375.44 L98.75,368.44 L99.20,373.93 L99.65,373.56 L100.10,377.27 L100.55,369.26 L101.00,374.65 L101.45,367.64 L101.90,369.24 L102.35,367.18 L102.80,375.48 L103.25,373.33 L103.70,380.22 L104.15,375.07 L104.60,376.49 L105.05,377.22 L105.50,373.20 L105.95,375.08 L106.40,379.88 L106.85,374.23 L107.30,376.27 L107.75,375.69 L108.20,377.89 L108.65,374.78 L109.10,375.60 L109.55,377.01 L110.00,376.69 L110.45,373.71 L110.90,379.74 L111.35,372.72 L111.80,373.26 L112.25,373.22 L112.70,380.86 L113.15,376.70 L113.60,374.90 L114.05,374.58 L114.50,379.86 L114.95,375.11 L115.40,374.50 L115.85,380.84 L116.30,374.98 L116.75,377.97 L117.20,379.13 L117.65,377.79 L118.10,379.20 L118.55,383.91 L119.00,377.26 L119.45,374.20 L119.90,371.69 L120.35,376.47 L120.80,375.38 L121.25,376.81 L121.70,373.80 L122.15,372.75 L122.60,370.82 L123.05,370.36 L123.50,371.48 L123.95,368.57 L124.40,368.85 L124.85,373.46 L125.30,367.44 L125.75,359.33 L126.20,368.92 L126.65,364.35 L127.10,360.09 L127.55,366.93 L128.00,365.33 L128.45,364.57 L128.90,365.84 L129.35,365.98 L129.80,369.54 L130.25,372.44 L130.70,367.37 L131.15,369.36 L131.60,373.69 L132.05,365.72 L132.50,372.81 L132.95,373.18 L133.40,372.92 L133.85,374.77 L134.30,375.87 L134.75,375.12 L135.20,369.71 L135.65,369.41 L136.10,369.59 L136.55,366.85 L137.00,367.41 L137.45,364.74 L137.90,363.50 L138.35,367.37 L138.80,364.42 L139.25,363.81 L139.70,366.75 L140.15,362.40 L140.60,363.01 L141.05,362.52 L141.50,357.77 L141.95,356.58 L142.40,347.28 L142.85,338.21 L143.30,345.24 L143.75,340.84 L144.20,337.45 L144.65,349.19 L145.10,348.46 L145.55,341.93 L146.00,342.78 L146.45,338.74 L146.90,352.18 L147.35,352.12 L147.80,361.70 L148.25,362.03 L148.70,356.19 L149.15,348.93 L149.60,347.17 L150.05,343.10 L150.50,336.69 L150.95,330.12 L151.40,327.82 L151.85,328.50 L152.30,325.00 L152.75,323.82 L153.20,320.55 L153.65,326.63 L154.10,323.38 L154.55,318.79 L155.00,324.73 L155.45,327.78 L155.90,322.49 L156.35,328.34 L156.80,330.78 L157.25,334.98 L157.70,335.57 L158.15,337.47 L158.60,339.94 L159.05,344.86 L159.50,345.76 L159.95,340.68 L160.40,340.16 L160.85,347.68 L161.30,340.62 L161.75,341.72 L162.20,343.79 L162.65,345.60 L163.10,347.60 L163.55,347.24 L164.00,345.63 L164.45,349.30 L164.90,349.71 L165.35,353.88 L165.80,351.01 L166.25,349.28 L166.70,350.78 L167.15,356.68 L167.60,353.62 L168.05,351.53 L168.50,355.61 L168.95,357.81 L169.40,361.22 L169.85,357.85 L170.30,362.24 L170.75,362.66 L171.20,358.07 L171.65,357.49 L172.10,359.80 L172.55,358.10 L173.00,354.77 L173.45,352.52 L173.90,353.04 L174.35,349.40 L174.80,348.40 L175.25,345.78 L175.70,347.31 L176.15,348.04 L176.60,354.65 L177.05,349.61 L177.50,353.44 L177.95,354.44 L178.40,352.33 L178.85,355.34 L179.30,348.95 L179.75,353.79 L180.20,355.61 L180.65,349.40 L181.10,352.18 L181.55,356.51 L182.00,352.97 L182.45,350.37 L182.90,350.90 L183.35,349.65 L183.80,351.27 L184.25,349.81 L184.70,348.76 L185.15,348.57 L185.60,350.38 L186.05,353.73 L186.50,352.36 L186.95,353.52 L187.40,352.47 L187.85,350.50 L188.30,351.97 L188.75,355.00 L189.20,354.22 L189.65,352.51 L190.10,351.40 L190.55,355.60 L191.00,355.58 L191.45,356.44 L191.90,357.36 L192.35,358.66 L192.80,357.16 L193.25,356.98 L193.70,355.39 L194.15,354.67 L194.60,352.10 L195.05,348.30 L195.50,347.08 L195.95,346.36 L196.40,342.93 L196.85,342.84 L197.30,342.23 L197.75,336.51 L198.20,332.91 L198.65,337.36 L199.10,333.54 L199.55,333.45 L200.00,327.90 L200.45,332.56 L200.90,329.10 L201.35,326.34 L201.80,324.97 L202.25,324.98 L202.70,323.51 L203.15,322.37 L203.60,319.77 L204.05,323.78 L204.50,320.72 L204.95,320.50 L205.40,320.09 L205.85,314.73 L206.30,320.05 L206.75,317.89 L207.20,318.30 L207.65,319.72 L208.10,318.35 L208.55,322.69 L209.00,321.18 L209.45,323.40 L209.90,326.11 L210.35,330.79 L210.80,334.59 L211.25,335.18 L211.70,336.62 L212.15,345.03 L212.60,344.04 L213.05,351.51 L213.50,351.87 L213.95,353.44 L214.40,356.41 L214.85,360.01 L215.30,359.31 L215.75,355.58 L216.20,356.32 L216.65,357.05 L217.10,349.00 L217.55,343.42 L218.00,339.92 L218.45,335.55 L218.90,335.72 L219.35,335.40 L219.80,334.05 L220.25,337.61 L220.70,331.18 L221.15,333.61 L221.60,340.13 L222.05,339.54 L222.50,339.88 L222.95,341.11 L223.40,345.10 L223.85,344.00 L224.30,344.45 L224.75,341.48 L225.20,342.06 L225.65,339.00 L226.10,337.32 L226.55,335.58 L227.00,335.18 L227.45,333.09 L227.90,334.14 L228.35,328.40 L228.80,329.36 L229.25,332.07 L229.70,330.00 L230.15,335.35 L230.60,338.25 L231.05,341.64 L231.50,343.51 L231.95,342.30 L232.40,340.81 L232.85,336.02 L233.30,329.12 L233.75,326.72 L234.20,320.59 L234.65,315.19 L235.10,318.32 L235.55,319.16 L236.00,319.22 L236.45,320.05 L236.90,322.22 L237.35,322.60 L237.80,322.31 L238.25,322.75 L238.70,321.72 L239.15,323.10 L239.60,323.10 L240.05,322.50 L240.50,320.19 L240.95,322.11 L241.40,327.72 L241.85,329.96 L242.30,333.77 L242.75,332.38 L243.20,335.46 L243.65,344.32 L244.10,345.63 L244.55,349.09 L245.00,349.07 L245.45,349.40 L245.90,349.47 L246.35,346.00 L246.80,350.03 L247.25,346.47 L247.70,348.10 L248.15,346.91 L248.60,346.47 L249.05,347.07 L249.50,343.22 L249.95,342.34 L250.40,340.32 L250.85,340.19 L251.30,343.20 L251.75,338.06 L252.20,340.07 L252.65,339.80 L253.10,340.06 L253.55,340.66 L254.00,337.47 L254.45,340.70 L254.90,343.58 L255.35,339.46 L255.80,341.51 L256.25,341.12 L256.70,344.03 L257.15,342.14 L257.60,348.42 L258.05,343.09 L258.50,338.76 L258.95,343.43 L259.40,339.80 L259.85,336.90 L260.30,334.93 L260.75,331.15 L261.20,330.06 L261.65,330.92 L262.10,330.27 L262.55,329.27 L263.00,326.79 L263.45,324.39 L263.90,323.91 L264.35,325.72 L264.80,326.08 L265.25,322.22 L265.70,321.65 L266.15,324.80 L266.60,323.45 L267.05,323.09 L267.50,318.78 L267.95,320.20 L268.40,319.47 L268.85,320.47 L269.30,316.23 L269.75,321.69 L270.20,319.30 L270.65,319.12 L271.10,314.78 L271.55,315.66 L272.00,316.96 L272.45,309.72 L272.90,315.33 L273.35,318.38 L273.80,317.87 L274.25,323.15 L274.70,323.12 L275.15,328.32 L275.60,327.51 L276.05,327.49 L276.50,331.64 L276.95,329.87 L277.40,331.41 L277.85,327.00 L278.30,328.68 L278.75,329.60 L279.20,326.94 L279.65,322.22 L280.10,321.10 L280.55,314.62 L281.00,314.37 L281.45,309.98 L281.90,312.20 L282.35,309.78 L282.80,308.71 L283.25,309.34 L283.70,312.10 L284.15,307.43 L284.60,309.74 L285.05,314.56 L285.50,313.07 L285.95,318.94 L286.40,317.33 L286.85,318.56 L287.30,320.85 L287.75,325.72 L288.20,325.66 L288.65,327.49 L289.10,329.06 L289.55,327.54 L290.00,330.25 L290.45,333.72 L290.90,331.14 L291.35,329.24 L291.80,328.24 L292.25,324.62 L292.70,325.12 L293.15,321.92 L293.60,324.85 L294.05,323.00 L294.50,324.35 L294.95,326.04 L295.40,324.83 L295.85,326.95 L296.30,325.21 L296.75,323.67 L297.20,324.25 L297.65,317.30 L298.10,316.32 L298.55,322.14 L299.00,324.19 L299.45,327.73 L299.90,326.62 L300.35,328.16 L300.80,326.13 L301.25,332.22 L301.70,334.87 L302.15,334.23 L302.60,337.51 L303.05,342.23 L303.50,346.18 L303.95,342.86 L304.40,352.04 L304.85,355.41 L305.30,356.85 L305.75,359.98 L306.20,360.31 L306.65,354.45 L307.10,354.38 L307.55,350.12 L308.00,345.81 L308.45,345.32 L308.90,346.08 L309.35,338.38 L309.80,336.19 L310.25,334.39 L310.70,339.85 L311.15,332.90 L311.60,330.58 L312.05,326.43 L312.50,323.42 L312.95,318.55 L313.40,320.85 L313.85,319.70 L314.30,313.89 L314.75,314.43 L315.20,313.70 L315.65,313.92 L316.10,314.24 L316.55,315.78 L317.00,316.03 L317.45,315.21 L317.90,315.53 L318.35,311.33 L318.80,313.66 L319.25,318.16 L319.70,317.56 L320.15,318.12 L320.60,314.35 L321.05,313.71 L321.50,318.01 L321.95,316.35 L322.40,314.19 L322.85,313.38 L323.30,312.61 L323.75,318.67 L324.20,321.85 L324.65,324.93 L325.10,323.60 L325.55,323.99 L326.00,323.11 L326.45,328.65 L326.90,330.51 L327.35,326.77 L327.80,329.48 L328.25,329.98 L328.70,329.55 L329.15,326.91 L329.60,332.37 L330.05,335.51 L330.50,332.61 L330.95,335.02 L331.40,331.33 L331.85,341.67 L332.30,341.30 L332.75,339.49 L333.20,337.96 L333.65,336.33 L334.10,336.54 L334.55,335.18 L335.00,334.40 L335.45,333.93 L335.90,333.35 L336.35,337.10 L336.80,332.00 L337.25,336.32 L337.70,335.45 L338.15,335.32 L338.60,333.76 L339.05,340.61 L339.50,338.32 L339.95,338.08 L340.40,339.83 L340.85,336.02 L341.30,337.54 L341.75,336.65 L342.20,337.70 L342.65,337.42 L343.10,332.92 L343.55,335.74 L344.00,332.97 L344.45,332.66 L344.90,331.25 L345.35,332.48 L345.80,329.06 L346.25,333.20 L346.70,336.23 L347.15,334.51 L347.60,340.34 L348.05,336.01 L348.50,339.11 L348.95,338.91 L349.40,340.64 L349.85,342.05 L350.30,345.60 L350.75,348.98 L351.20,349.87 L351.65,355.64 L352.10,359.32 L352.55,355.62 L353.00,363.46 L353.45,365.64 L353.90,369.22 L354.35,377.12 L354.80,378.08 L355.25,378.80 L355.70,378.97 L356.15,374.76 L356.60,381.11 L357.05,378.53 L357.50,380.85 L357.95,378.99 L358.40,379.01 L358.85,379.44 L359.30,375.64 L359.75,374.51 L360.20,368.14 L360.65,365.33 L361.10,361.77 L361.55,353.17 L362.00,355.94 L362.45,346.24 L362.90,340.93 L363.35,342.56 L363.80,340.04 L364.25,331.24 L364.70,328.27 L365.15,332.57 L365.60,323.43 L366.05,316.69 L366.50,318.10 L366.95,322.00 L367.40,317.98 L367.85,316.84 L368.30,316.45 L368.75,315.64 L369.20,313.91 L369.65,311.67 L370.10,316.04 L370.55,313.21 L371.00,315.61 L371.45,319.53 L371.90,317.38 L372.35,318.22 L372.80,320.03 L373.25,323.16 L373.70,325.34 L374.15,322.67 L374.60,323.65 L375.05,322.77 L375.50,316.91 L375.95,314.05 L376.40,314.40 L376.85,311.82 L377.30,313.96 L377.75,318.08 L378.20,314.04 L378.65,311.79 L379.10,311.67 L379.55,311.91 L380.00,311.24 L380.45,310.45 L380.90,310.09 L381.35,313.37 L381.80,315.65 L382.25,311.91 L382.70,311.82 L383.15,314.83 L383.60,309.07 L384.05,310.37 L384.50,310.34 L384.95,312.04 L385.40,312.05 L385.85,311.73 L386.30,315.02 L386.75,312.92 L387.20,312.30 L387.65,312.15 L388.10,318.14 L388.55,313.60 L389.00,318.39 L389.45,318.48 L389.90,318.39 L390.35,316.06 L390.80,314.95 L391.25,315.85 L391.70,314.62 L392.15,315.06 L392.60,321.97 L393.05,319.50 L393.50,326.07 L393.95,324.36 L394.40,323.29 L394.85,325.93 L395.30,328.38 L395.75,324.02 L396.20,325.78 L396.65,326.37 L397.10,329.40 L397.55,330.48 L398.00,330.32 L398.45,329.41 L398.90,330.41 L399.35,334.44 L399.80,334.90 L400.25,333.53 L400.70,331.25 L401.15,335.74 L401.60,335.66 L402.05,336.19 L402.50,339.75 L402.95,338.54 L403.40,336.05 L403.85,337.42 L404.30,343.46 L404.75,342.46 L405.20,345.17 L405.65,344.96 L406.10,345.16 L406.55,349.60 L407.00,352.35 L407.45,347.91 L407.90,342.98 L408.35,342.61 L408.80,340.25 L409.25,339.60 L409.70,339.30 L410.15,340.91 L410.60,337.14 L411.05,335.54 L411.50,336.26 L411.95,335.85 L412.40,334.67 L412.85,335.27 L413.30,334.92 L413.75,332.27 L414.20,335.42 L414.65,333.30 L415.10,331.76 L415.55,334.41 L416.00,332.15 L416.45,336.80 L416.90,334.85 L417.35,334.64 L417.80,333.55 L418.25,334.83 L418.70,337.93 L419.15,335.44 L419.60,338.69 L420.05,332.51 L420.50,336.66 L420.95,337.44 L421.40,336.03 L421.85,334.90 L422.30,336.47 L422.75,332.46 L423.20,333.24 L423.65,336.45 L424.10,339.68 L424.55,339.17 L425.00,338.96 L425.45,340.98 L425.90,342.30 L426.35,339.33 L426.80,336.43 L427.25,340.22 L427.70,339.51 L428.15,341.56 L428.60,340.54 L429.05,341.44 L429.50,344.27 L429.95,343.82 L430.40,343.81 L430.85,346.95 L431.30,342.48 L431.75,342.42 L432.20,345.48 L432.65,340.50 L433.10,339.23 L433.55,344.88 L434.00,342.72 L434.45,343.02 L434.90,342.76 L435.35,342.85 L435.80,339.65 L436.25,340.00 L436.70,337.48 L437.15,339.54 L437.60,339.27 L438.05,337.46 L438.50,339.25 L438.95,343.38 L439.40,335.15 L439.85,339.30 L440.30,339.72 L440.75,340.16 L441.20,336.61 L441.65,341.35 L442.10,342.10 L442.55,342.38 L443.00,343.78 L443.45,345.38 L443.90,347.19 L444.35,347.51 L444.80,350.50 L445.25,345.09 L445.70,346.91 L446.15,344.67 L446.60,346.96 L447.05,345.46 L447.50,343.68 L447.95,341.89 L448.40,342.68 L448.85,344.38 L449.30,346.71 L449.75,345.43 L450.20,341.60 L450.65,343.13 L451.10,344.28 L451.55,344.05 L452.00,344.53 L452.45,345.98 L452.90,344.83 L453.35,343.00 L453.80,340.51 L454.25,343.67 L454.70,340.97 L455.15,343.99 L455.60,344.73 L456.05,341.19 L456.50,343.34 L456.95,342.70 L457.40,346.95 L457.85,343.82 L458.30,338.90 L458.75,343.77 L459.20,343.92 L459.65,342.91 L460.10,342.77 L460.55,344.93 L461.00,345.28 L461.45,345.04 L461.90,342.42 L462.35,344.13 L462.80,341.75 L463.25,342.11 L463.70,344.22 L464.15,343.52 L464.60,345.57 L465.05,352.12 L465.50,348.92 L465.95,346.94 L466.40,345.26 L466.85,348.77 L467.30,348.45 L467.75,347.80 L468.20,354.51 L468.65,353.29 L469.10,356.32 L469.55,362.81 L470.00,358.37 L470.45,359.25 L470.90,361.05 L471.35,361.17 L471.80,361.40 L472.25,363.98 L472.70,366.08 L473.15,362.40 L473.60,359.35 L474.05,358.74 L474.50,357.90 L474.95,358.19 L475.40,357.33 L475.85,355.54 L476.30,355.16 L476.75,350.84 L477.20,351.90 L477.65,349.85 L478.10,349.59 L478.55,343.48 L479.00,348.69 L479.45,342.34 L479.90,342.41 L480.35,345.45 L480.80,342.35 L481.25,346.08 L481.70,342.64 L482.15,340.04 L482.60,342.18 L483.05,340.84 L483.50,344.52 L483.95,344.45 L484.40,342.44 L484.85,339.93 L485.30,340.69 L485.75,342.40 L486.20,338.47 L486.65,338.26 L487.10,341.33 L487.55,341.22 L488.00,339.50 L488.45,339.65 L488.90,336.50 L489.35,342.99 L489.80,340.61 L490.25,338.20 L490.70,339.24 L491.15,340.18 L491.60,345.84 L492.05,344.28 L492.50,340.69 L492.95,347.54 L493.40,346.90 L493.85,342.22 L494.30,339.14 L494.75,346.50 L495.20,343.48 L495.65,344.53 L496.10,343.87 L496.55,347.55 L497.00,348.10 L497.45,346.87 L497.90,345.05 L498.35,345.98 L498.80,346.80 L499.25,342.52 L499.70,348.49 L500.15,345.81 L500.60,347.43 L501.05,347.63 L501.50,349.62 L501.95,350.39 L502.40,353.13 L502.85,347.92 L503.30,346.58 L503.75,348.42 L504.20,346.61 L504.65,349.40 L505.10,345.83 L505.55,347.53 L506.00,349.38 L506.45,349.76 L506.90,348.38 L507.35,351.02 L507.80,351.01 L508.25,345.27 L508.70,349.52 L509.15,348.92 L509.60,347.73 L510.05,346.81 L510.50,347.94 L510.95,348.38 L511.40,347.92 L511.85,350.13 L512.30,349.62 L512.75,346.69 L513.20,346.58 L513.65,350.03 L514.10,347.17 L514.55,349.13 L515.00,349.53 L515.45,350.19 L515.90,348.71 L516.35,350.12 L516.80,345.86 L517.25,347.67 L517.70,345.45 L518.15,348.02 L518.60,348.78 L519.05,347.56 L519.50,345.09 L519.95,353.03 L520.40,352.14 L520.85,351.99 L521.30,350.60 L521.75,351.63 L522.20,353.50 L522.65,352.92 L523.10,355.89 L523.55,354.69 L524.00,353.70 L524.45,357.45 L524.90,355.84 L525.35,358.43 L525.80,355.26 L526.25,360.05 L526.70,363.73 L527.15,363.18 L527.60,366.30 L528.05,369.31 L528.50,370.02 L528.95,375.21 L529.40,372.87 L529.85,374.64 L530.30,376.01 L530.75,373.70 L531.20,375.91 L531.65,381.37 L532.10,380.22 L532.55,384.13 L533.00,381.67 L533.45,381.96 L533.90,383.91 L534.35,381.51 L534.80,383.26 L535.25,377.04 L535.70,379.02 L536.15,378.11 L536.60,376.46 L537.05,376.26 L537.50,374.62 L537.95,371.34 L538.40,368.85 L538.85,370.62 L539.30,367.47 L539.75,367.72 L540.20,366.74 L540.65,362.67 L541.10,358.70 L541.55,358.65 L542.00,362.83 L542.45,362.87 L542.90,367.79 L543.35,367.61 L543.80,367.92 L544.25,366.27 L544.70,367.19 L545.15,369.45 L545.60,366.44 L546.05,366.32 L546.50,364.97 L546.95,366.54 L547.40,360.39 L547.85,360.57 L548.30,362.15 L548.75,361.61 L549.20,356.62 L549.65,357.29 L550.10,349.69 L550.55,353.47 L551.00,350.85 L551.45,345.44 L551.90,340.61 L552.35,339.44 L552.80,337.25 L553.25,333.91 L553.70,331.19 L554.15,330.31 L554.60,327.96 L555.05,321.58 L555.50,322.24 L555.95,321.06 L556.40,323.22 L556.85,319.27 L557.30,321.35 L557.75,318.61 L558.20,322.30 L558.65,317.08 L559.10,316.75 L559.55,316.08 L560.00,316.17 L560.45,320.29 L560.90,313.99 L561.35,313.15 L561.80,314.65 L562.25,316.54 L562.70,313.38 L563.15,317.10 L563.60,317.19 L564.05,315.53 L564.50,315.94 L564.95,315.45 L565.40,317.06 L565.85,316.60 L566.30,321.26 L566.75,322.61 L567.20,319.52 L567.65,320.92 L568.10,318.12 L568.55,321.77 L569.00,324.42 L569.45,325.21 L569.90,325.82 L570.35,327.87 L570.80,326.96 L571.25,326.61 L571.70,331.19 L572.15,324.76 L572.60,326.88 L573.05,328.75 L573.50,330.13 L573.95,331.40 L574.40,333.86 L574.85,334.25 L575.30,336.93 L575.75,339.04 L576.20,338.58 L576.65,339.46 L577.10,337.99 L577.55,338.26 L578.00,340.60 L578.45,343.70 L578.90,343.43 L579.35,345.86 L579.80,346.70 L580.25,347.97 L580.70,345.15 L581.15,350.24 L581.60,350.30 L582.05,354.96 L582.50,354.32 L582.95,356.12 L583.40,357.53 L583.85,359.77 L584.30,357.26 L584.75,361.15 L585.20,362.68 L585.65,365.83 L586.10,363.18 L586.55,363.69 L587.00,366.00 L587.45,360.25 L587.90,361.92 L588.35,358.12 L588.80,357.74 L589.25,357.53 L589.70,357.04 L590.15,352.98 L590.60,351.00 L591.05,356.49 L591.50,354.30 L591.95,355.95 L592.40,356.64" fill="none" stroke="#55a535" stroke-width="1.15" stroke-linejoin="round"/>
<path d="M126.6,363.0 L126.6,279.4" stroke="#55a535" stroke-width="1.3"/>
<path d="M226.8,336.0 L226.8,298.8" stroke="#55a535" stroke-width="1.3"/>
<path d="M239.6,322.0 L239.6,289.8" stroke="#55a535" stroke-width="1.3"/>
<path d="M377.0,332.0 L377.0,151.0" stroke="#74b856" stroke-width="1.8"/>
<path d="M378.6,312.0 L378.6,274.0" stroke="#55a535" stroke-width="1.3"/>
<path d="M391.2,316.0 L391.2,280.5" stroke="#55a535" stroke-width="1.3"/>
<path d="M277.8,239 L277.8,379.5" stroke="#98a0d0" stroke-width="1" stroke-dasharray="1.2,1.2"/>
<path d="M291.5,239 L291.5,379.5" stroke="#98a0d0" stroke-width="1" stroke-dasharray="1.2,1.2"/>
<path d="M305.8,239 L305.8,379.5" stroke="#b4dde8" stroke-width="1" stroke-dasharray="1.2,1.2"/>
<path d="M332,239 L332,379.5" stroke="#98a0d0" stroke-width="1" stroke-dasharray="1.2,1.2"/>
<path d="M340.7,239 L340.7,379.5" stroke="#98a0d0" stroke-width="1" stroke-dasharray="1.2,1.2"/>
<path d="M356.8,239 L356.8,379.5" stroke="#a8a8b4" stroke-width="1" stroke-dasharray="1.2,1.2"/>
<path d="M373.3,239 L373.3,379.5" stroke="#b4dde8" stroke-width="1" stroke-dasharray="1.2,1.2"/>
<path d="M406.7,239 L406.7,379.5" stroke="#b4dde8" stroke-width="1" stroke-dasharray="1.2,1.2"/>
<text x="97.5" y="72.6" font-family="Liberation Serif" font-size="21.5" fill="#111"  stroke="#fff" stroke-width="0.22" textLength="175.6" lengthAdjust="spacingAndGlyphs">SN 1993J, +60 days</text>
<text x="98" y="148.3" font-family="Liberation Serif" font-size="21.5" fill="#983f92"  stroke="#fff" stroke-width="0.22" textLength="212" lengthAdjust="spacingAndGlyphs">SN 2004cs, +3000 km/s,</text>
<text x="98" y="173" font-family="Liberation Serif" font-size="21.5" fill="#983f92"  stroke="#fff" stroke-width="0.22" textLength="157.2" lengthAdjust="spacingAndGlyphs">50ÅGaussian filter</text>
<text x="97.5" y="247.5" font-family="Liberation Serif" font-size="21.5" fill="#d02424"  stroke="#fff" stroke-width="0.22" textLength="95" lengthAdjust="spacingAndGlyphs">SN 2004cs,</text>
<text x="97.5" y="271.5" font-family="Liberation Serif" font-size="21.5" fill="#d02424"  stroke="#fff" stroke-width="0.22" textLength="98.4" lengthAdjust="spacingAndGlyphs">binned 10Å</text>
<text x="290.5" y="235" font-family="Liberation Serif" font-size="18" fill="#68b4c8"  stroke="#fff" stroke-width="0.22" textLength="28.4" lengthAdjust="spacingAndGlyphs">HeI</text>
<text x="344.5" y="235" font-family="Liberation Serif" font-size="18" fill="#111"  stroke="#fff" stroke-width="0.22">H<tspan font-style="italic">α</tspan></text>
<text x="390.5" y="235" font-family="Liberation Serif" font-size="18" fill="#68b4c8"  stroke="#fff" stroke-width="0.22" textLength="28.4" lengthAdjust="spacingAndGlyphs">HeI</text>
<text x="144.5" y="400.8" font-family="Liberation Serif" font-size="21.7" fill="#55a535"  stroke="#fff" stroke-width="0.22" textLength="296.8" lengthAdjust="spacingAndGlyphs">PTF10qrl, binned 3Å, -3000 km/s</text>
<rect x="77.2" y="7.3" width="515.6999999999999" height="406.9" fill="none" stroke="#333" stroke-width="1.1"/>
<path d="M146.70,414.2 L146.70,409.2M146.70,7.3 L146.70,12.3" stroke="#333" stroke-width="0.8"/>
<text x="130.20" y="432.3" font-family="Liberation Sans" font-size="15.0" fill="#111" stroke="#111" stroke-width="0.3" textLength="33.6" lengthAdjust="spacingAndGlyphs">4000</text>
<path d="M234.20,414.2 L234.20,409.2M234.20,7.3 L234.20,12.3" stroke="#333" stroke-width="0.8"/>
<text x="217.70" y="432.3" font-family="Liberation Sans" font-size="15.0" fill="#111" stroke="#111" stroke-width="0.3" textLength="33.6" lengthAdjust="spacingAndGlyphs">5000</text>
<path d="M321.70,414.2 L321.70,409.2M321.70,7.3 L321.70,12.3" stroke="#333" stroke-width="0.8"/>
<text x="305.20" y="432.3" font-family="Liberation Sans" font-size="15.0" fill="#111" stroke="#111" stroke-width="0.3" textLength="33.6" lengthAdjust="spacingAndGlyphs">6000</text>
<path d="M409.20,414.2 L409.20,409.2M409.20,7.3 L409.20,12.3" stroke="#333" stroke-width="0.8"/>
<text x="392.70" y="432.3" font-family="Liberation Sans" font-size="15.0" fill="#111" stroke="#111" stroke-width="0.3" textLength="33.6" lengthAdjust="spacingAndGlyphs">7000</text>
<path d="M496.70,414.2 L496.70,409.2M496.70,7.3 L496.70,12.3" stroke="#333" stroke-width="0.8"/>
<text x="480.20" y="432.3" font-family="Liberation Sans" font-size="15.0" fill="#111" stroke="#111" stroke-width="0.3" textLength="33.6" lengthAdjust="spacingAndGlyphs">8000</text>
<path d="M584.20,414.2 L584.20,409.2M584.20,7.3 L584.20,12.3" stroke="#333" stroke-width="0.8"/>
<text x="567.70" y="432.3" font-family="Liberation Sans" font-size="15.0" fill="#111" stroke="#111" stroke-width="0.3" textLength="33.6" lengthAdjust="spacingAndGlyphs">9000</text>
<path d="M77.2,414.20 L82.2,414.20M592.9,414.20 L587.9,414.20" stroke="#333" stroke-width="0.8"/>
<text x="73.3" y="419.80" font-family="Liberation Sans" font-size="15.1" fill="#111" text-anchor="end" stroke="#111" stroke-width="0.3">0</text>
<path d="M77.2,356.07 L82.2,356.07M592.9,356.07 L587.9,356.07" stroke="#333" stroke-width="0.8"/>
<text x="44.3" y="361.67" font-family="Liberation Sans" font-size="15.1" fill="#111" stroke="#111" stroke-width="0.3" textLength="28.8" lengthAdjust="spacingAndGlyphs">0.01</text>
<path d="M77.2,297.94 L82.2,297.94M592.9,297.94 L587.9,297.94" stroke="#333" stroke-width="0.8"/>
<text x="44.3" y="303.54" font-family="Liberation Sans" font-size="15.1" fill="#111" stroke="#111" stroke-width="0.3" textLength="28.8" lengthAdjust="spacingAndGlyphs">0.02</text>
<path d="M77.2,239.81 L82.2,239.81M592.9,239.81 L587.9,239.81" stroke="#333" stroke-width="0.8"/>
<text x="44.3" y="245.41" font-family="Liberation Sans" font-size="15.1" fill="#111" stroke="#111" stroke-width="0.3" textLength="28.8" lengthAdjust="spacingAndGlyphs">0.03</text>
<path d="M77.2,181.68 L82.2,181.68M592.9,181.68 L587.9,181.68" stroke="#333" stroke-width="0.8"/>
<text x="44.3" y="187.28" font-family="Liberation Sans" font-size="15.1" fill="#111" stroke="#111" stroke-width="0.3" textLength="28.8" lengthAdjust="spacingAndGlyphs">0.04</text>
<path d="M77.2,123.55 L82.2,123.55M592.9,123.55 L587.9,123.55" stroke="#333" stroke-width="0.8"/>
<text x="44.3" y="129.15" font-family="Liberation Sans" font-size="15.1" fill="#111" stroke="#111" stroke-width="0.3" textLength="28.8" lengthAdjust="spacingAndGlyphs">0.05</text>
<path d="M77.2,65.42 L82.2,65.42M592.9,65.42 L587.9,65.42" stroke="#333" stroke-width="0.8"/>
<text x="44.3" y="71.02" font-family="Liberation Sans" font-size="15.1" fill="#111" stroke="#111" stroke-width="0.3" textLength="28.8" lengthAdjust="spacingAndGlyphs">0.06</text>
<path d="M77.2,7.29 L82.2,7.29M592.9,7.29 L587.9,7.29" stroke="#333" stroke-width="0.8"/>
<text x="44.3" y="12.89" font-family="Liberation Sans" font-size="15.1" fill="#111" stroke="#111" stroke-width="0.3" textLength="28.8" lengthAdjust="spacingAndGlyphs">0.07</text>
<text x="230" y="454.4" font-family="Liberation Sans" font-size="20" fill="#111" stroke="#111" stroke-width="0.3" textLength="213.3" lengthAdjust="spacingAndGlyphs">Rest Wavelength [Ang]</text>
<text transform="translate(22,330.2) rotate(-90)" font-family="Liberation Sans" font-size="21" fill="#111" stroke="#111" stroke-width="0.15">Scaled F<tspan dy="10.5" font-size="17.5">λ</tspan><tspan dy="-10.5"> [erg/s/cm</tspan><tspan dy="-11.5" font-size="15">2</tspan><tspan dy="11.5">/Ang]</tspan></text>
</svg></body></html>
